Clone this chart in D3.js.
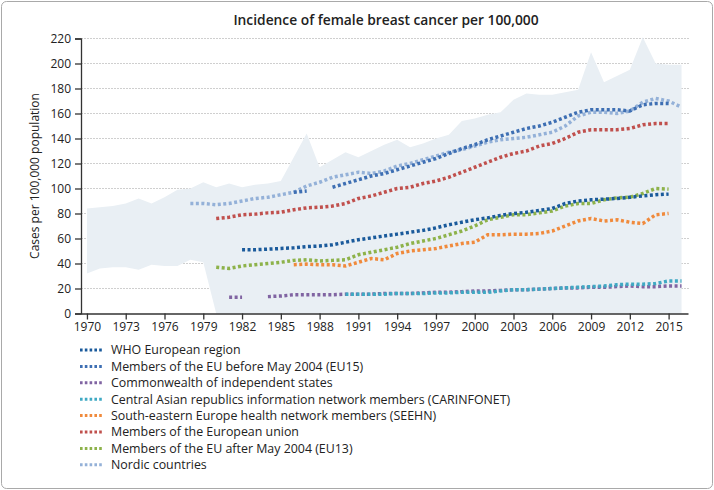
<!DOCTYPE html>
<html>
<head>
<meta charset="utf-8">
<script src="https://cdn.jsdelivr.net/npm/d3@7"></script>
<style>
  html, body { margin: 0; padding: 0; background: #fff; }
  svg { display: block; font-family: "Open Sans", "Noto Sans", sans-serif; }
</style>
</head>
<body>
<svg id="chart" width="714" height="490"></svg>
<script>
// ---- Data ----
const years = d3.range(1970, 2017);
const xTickYears = [1970, 1973, 1976, 1979, 1982, 1985, 1988, 1991, 1994, 1997, 2000, 2003, 2006, 2009, 2012, 2015];
const yTicks = [0, 20, 40, 60, 80, 100, 120, 140, 160, 180, 200, 220];

// range band (min / max of countries), 1970..2016
const bandUpper = [84,85,86,88,92,88,93,99,100,105,101,104,101,103,104,106,125,144,117,123,129,125,130,135,139,133,136,140,143,154,156,159,161,171,176,175,175,177,179,209,185,190,195,221,200,199,199];
const bandLower = [32,36,37,37,35,39,38,38,43,41,0,0,0,0,0,0,0,0,0,0,0,0,0,0,0,0,0,0,0,0,0,0,0,0,0,0,0,0,0,0,0,0,0,0,0,0,0];

const _ = null;
// 1970..2016
const who      = [_,_,_,_,_,_,_,_,_,_,_,_,51,51,51.5,52,52.5,53.5,54,55,57,59,60.5,62,63.5,65,66.5,68.5,71,73,75,76.5,78.5,80,81,82.5,84,88,90,91,91.5,92,93,94,95,95.5,_];
const eu15     = [_,_,_,_,_,_,_,_,_,_,_,_,_,_,_,_,97,98,_,101,104,107,110,112,115,118,121,124,128,132,135,139,142,145,148,150,153,157,161,163,163,163,162,167,168,168,_];
const cis      = [_,_,_,_,_,_,_,_,_,_,_,13,13,_,13.5,14,15,15,15,15,15.5,15.5,15.5,16,16,16,16.5,17,17,17.5,18,18,18.5,19,19,19.5,20,20.5,20.5,21,21,21.5,22,21.5,21.5,22,22];
const carinfo  = [_,_,_,_,_,_,_,_,_,_,_,_,_,_,_,_,_,_,_,_,15.5,15.5,15.5,15.5,16,16,16,16.5,16.5,17,17,17,18,19,19,19.5,20,20.5,21,21.5,22,23,23.5,23.5,24,26,26];
const seehn    = [_,_,_,_,_,_,_,_,_,_,_,_,_,_,_,_,39,39.5,39,39,38,41,44,43,48,50,51,52,54,56,57,63,63,63.5,63.5,64,66,70,74,76,74,75,73,72,79,80,_];
const eu       = [_,_,_,_,_,_,_,_,_,_,76,77,79,79.5,80.5,81,83,84.5,85,86,88,92,94,97,100,101,104,106,109,113,117,121,125,128,130,134,136,140,145,147,147,147,148,151,152,152,_];
const eu13     = [_,_,_,_,_,_,_,_,_,_,37,36,38,39,40,41,42.5,43,42,42.5,43,47,49,51,53,56,58,60,63,66,70,75,77,79,79,80.5,82,86,88,88,91,92.5,93,96,100,99.5,_];
const nordic   = [_,_,_,_,_,_,_,_,88,88,87,88,90,92,93,95,97,102,105,109,111,113,112,114,118,120,123,126,129,131,134,137,139,140,141,143,145,150,158,161,161,160,162,169,172,170,165];

const seriesNames = [
  "WHO European region",
  "Members of the EU before May 2004 (EU15)",
  "Commonwealth of independent states",
  "Central Asian republics information network members (CARINFONET)",
  "South-eastern Europe health network members (SEEHN)",
  "Members of the European union",
  "Members of the EU after May 2004 (EU13)",
  "Nordic countries"
];
const seriesValues = [who, eu15, cis, carinfo, seehn, eu, eu13, nordic];
const seriesColors = ["#1a5a9b", "#3e6fb3", "#8064a2", "#3fa9c3", "#f08a3c", "#c0504d", "#8db24a", "#94b1d8"];
// drawing order (back to front)
const drawOrder = [6, 4, 0, 5, 2, 3, 7, 1];

// ---- Layout ----
const svg = d3.select("#chart");
const x = d3.scaleLinear().domain([1969.54, 2016.5]).range([81, 688]);
const y = d3.scaleLinear().domain([0, 220]).range([313.5, 38.5]);

// border
svg.append("rect").attr("x", 1.5).attr("y", 1.5).attr("width", 711).attr("height", 487)
  .attr("rx", 5).attr("fill", "#fff").attr("stroke", "#a9a9a9").attr("stroke-width", 1);

// title
svg.append("text").attr("x", 386).attr("y", 25).attr("text-anchor", "middle")
  .attr("font-size", 13.8).attr("font-weight", 600).attr("fill", "#222")
  .text("Incidence of female breast cancer per 100,000");

// gridlines
svg.append("g").selectAll("line").data(yTicks.slice(1)).join("line")
  .attr("x1", 81).attr("x2", 690)
  .attr("y1", d => y(d)).attr("y2", d => y(d))
  .attr("stroke", "#cfcfcf").attr("stroke-width", 1).attr("stroke-dasharray", "2,1");

// band
const bandData = years.map((yr, i) => ({yr, lo: bandLower[i], hi: bandUpper[i]}));
svg.append("path").datum(bandData)
  .attr("fill", "#e9eff4")
  .attr("d", d3.area().x(d => x(d.yr)).y0(d => y(d.lo)).y1(d => y(d.hi)));

// series lines
const line = d3.line().defined(d => d.v !== null).x(d => x(d.yr)).y(d => y(d.v));
drawOrder.forEach(k => {
  const data = years.map((yr, i) => ({yr, v: seriesValues[k][i]}));
  svg.append("path").datum(data)
    .attr("fill", "none").attr("stroke", seriesColors[k])
    .attr("stroke-width", 3.5).attr("stroke-dasharray", "3,2.5")
    .attr("d", line);
});

// axes
const yAxis = d3.axisLeft(y).tickValues(yTicks).tickSize(6).tickPadding(4);
const gy = svg.append("g").attr("transform", "translate(81,0)").call(yAxis);
const xAxis = d3.axisBottom(x).tickValues(xTickYears).tickFormat(d3.format("d")).tickSize(6).tickSizeOuter(0).tickPadding(3);
const gx = svg.append("g").attr("transform", "translate(0,313.5)").call(xAxis);
[gy, gx].forEach(g => {
  g.selectAll("path, line").attr("stroke", "#333").attr("stroke-width", 1.3);
  g.selectAll("text").attr("font-size", 12).attr("fill", "#222").attr("font-family", "\"Open Sans\", sans-serif");
});

// y axis title
svg.append("text").attr("transform", "translate(39,176) rotate(-90)")
  .attr("text-anchor", "middle").attr("font-size", 12).attr("fill", "#222")
  .text("Cases per 100,000 population");

// legend
const lg = svg.append("g");
seriesNames.forEach((name, i) => {
  const ly = 350 + i * 16.4;
  lg.append("line").attr("x1", 80).attr("x2", 104).attr("y1", ly).attr("y2", ly)
    .attr("stroke", seriesColors[i]).attr("stroke-width", 3).attr("stroke-dasharray", "2.6,2.2");
  lg.append("text").attr("x", 111).attr("y", ly + 4.4)
    .attr("font-size", 12.4).attr("fill", "#222").text(name);
});
</script>
</body>
</html>
